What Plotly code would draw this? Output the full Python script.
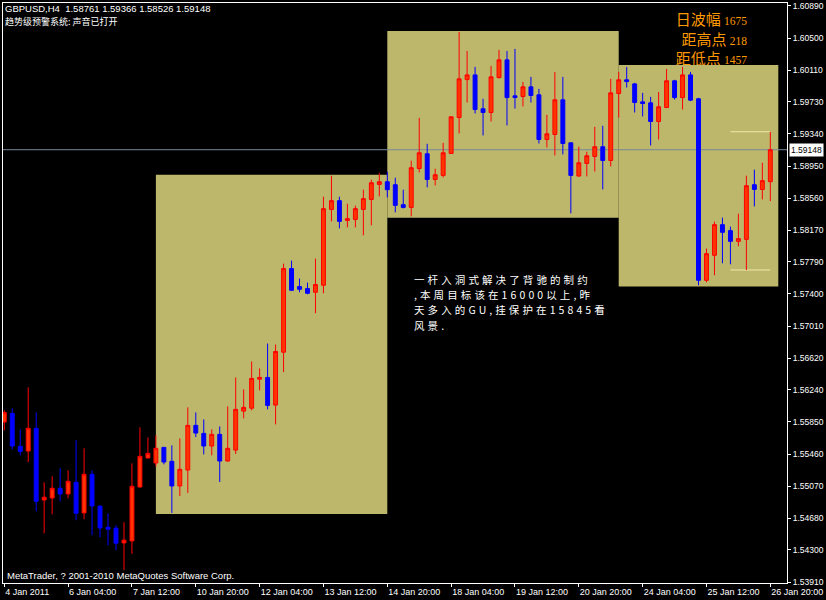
import plotly.graph_objects as go

# ---- text ---------------------------------------------------------------
symbol = "GBPUSD,H4"
status_line = "趋势级预警系统: 声音已打开"
copyright_line = "MetaTrader, ? 2001-2010 MetaQuotes Software Corp."
note_lines = [
    "一杆入洞式解决了背驰的制约",
    ",本周目标该在16000以上,昨",
    "天多入的GU,挂保护在15845看",
    "风景.",
]

# ---- H4 bars (bar index 0 = 4 Jan 20:00) ----------------------------------
opens = [
    1.55848, 1.55953, 1.55554, 1.55497, 1.55772, 1.54904, 1.54928, 1.55046, 1.54977, 1.55118,
    1.54747, 1.55215, 1.54828, 1.54574, 1.54562, 1.54384, 1.54408, 1.55061, 1.55412, 1.55352,
    1.55542, 1.55372, 1.55074, 1.55267, 1.55808, 1.55711, 1.55558, 1.55699, 1.55376, 1.55509,
    1.55981, 1.56017, 1.56368, 1.56389, 1.56054, 1.56695, 1.57708, 1.57490, 1.57466, 1.57421,
    1.57506, 1.58425, 1.58531, 1.58292, 1.58304, 1.58425, 1.58546, 1.58728, 1.58760, 1.58724,
    1.58482, 1.58449, 1.58921, 1.59099, 1.58788, 1.58837, 1.59103, 1.59538, 1.59998, 1.60055,
    1.59644, 1.59599, 1.60022, 1.60237, 1.59801, 1.59793, 1.59910, 1.59813, 1.59272, 1.59333,
    1.59753, 1.59232, 1.58829, 1.58982, 1.59067, 1.59184, 1.59018, 1.59829, 1.59995, 1.59946,
    1.59728, 1.59716, 1.59490, 1.59659, 1.59983, 1.59780, 1.60055, 1.59765, 1.57566, 1.57869,
    1.58240, 1.58168, 1.58038, 1.58062, 1.58724, 1.58667, 1.58761,
]
highs = [
    1.55990, 1.56014, 1.55760, 1.56268, 1.55965, 1.55118, 1.55191, 1.55288, 1.55264, 1.55627,
    1.55530, 1.55264, 1.54840, 1.54743, 1.54598, 1.54634, 1.55348, 1.55784, 1.55663, 1.55687,
    1.55542, 1.55566, 1.55651, 1.56026, 1.55965, 1.55881, 1.55760, 1.55796, 1.56038, 1.56389,
    1.56244, 1.56582, 1.56498, 1.56800, 1.56788, 1.57768, 1.57805, 1.57587, 1.57538, 1.57829,
    1.58579, 1.58833, 1.58579, 1.58494, 1.58470, 1.58664, 1.58785, 1.58869, 1.58881, 1.58809,
    1.58664, 1.59015, 1.59535, 1.59220, 1.58918, 1.59232, 1.59547, 1.60575, 1.60345, 1.60152,
    1.59765, 1.60164, 1.60358, 1.60345, 1.60370, 1.59970, 1.60031, 1.59886, 1.59571, 1.60091,
    1.60031, 1.59232, 1.59184, 1.59123, 1.59426, 1.59438, 1.60007, 1.60091, 1.60152, 1.59958,
    1.59837, 1.59789, 1.59849, 1.60128, 1.59995, 1.60152, 1.60091, 1.59777, 1.57950, 1.58276,
    1.58325, 1.58216, 1.58373, 1.58833, 1.58906, 1.58990, 1.59366,
]
lows = [
    1.55748, 1.55518, 1.55445, 1.55364, 1.54767, 1.54501, 1.54731, 1.54888, 1.54925, 1.54659,
    1.54671, 1.54477, 1.54453, 1.54356, 1.54296, 1.54054, 1.54251, 1.55058, 1.55409, 1.55312,
    1.55336, 1.54747, 1.54953, 1.54989, 1.55666, 1.55457, 1.55445, 1.55122, 1.55370, 1.55461,
    1.55893, 1.55990, 1.56232, 1.56002, 1.55820, 1.56453, 1.57440, 1.57421, 1.57397, 1.57167,
    1.57409, 1.58280, 1.58195, 1.58207, 1.58207, 1.58111, 1.58232, 1.58583, 1.58570, 1.58389,
    1.58437, 1.58341, 1.58873, 1.58691, 1.58716, 1.58812, 1.59103, 1.59345, 1.59720, 1.59587,
    1.59321, 1.59490, 1.60010, 1.59442, 1.59647, 1.59672, 1.59720, 1.59224, 1.59175, 1.59079,
    1.59091, 1.58377, 1.58825, 1.58825, 1.58885, 1.58667, 1.58946, 1.59538, 1.59901, 1.59599,
    1.59551, 1.59200, 1.59272, 1.59655, 1.59756, 1.59635, 1.59737, 1.57506, 1.57542, 1.57627,
    1.57772, 1.57760, 1.57978, 1.57691, 1.58462, 1.58546, 1.58526,
]
closes = [
    1.55965, 1.55558, 1.55493, 1.55772, 1.54888, 1.54937, 1.55046, 1.54977, 1.55130, 1.54743,
    1.55215, 1.54832, 1.54565, 1.54550, 1.54380, 1.54417, 1.55070, 1.55433, 1.55469, 1.55530,
    1.55364, 1.55074, 1.55276, 1.55808, 1.55715, 1.55558, 1.55699, 1.55376, 1.55530, 1.56002,
    1.56026, 1.56377, 1.56389, 1.56050, 1.56703, 1.57708, 1.57445, 1.57457, 1.57409, 1.57514,
    1.58434, 1.58531, 1.58280, 1.58313, 1.58434, 1.58555, 1.58748, 1.58760, 1.58664, 1.58474,
    1.58449, 1.58930, 1.59111, 1.58788, 1.58845, 1.59111, 1.59547, 1.60007, 1.60055, 1.59635,
    1.59599, 1.60031, 1.60237, 1.59780, 1.59780, 1.59910, 1.59805, 1.59272, 1.59341, 1.59753,
    1.59224, 1.58837, 1.58990, 1.59075, 1.59184, 1.59018, 1.59837, 1.59995, 1.59974, 1.59720,
    1.59708, 1.59490, 1.59668, 1.59983, 1.59780, 1.60055, 1.59749, 1.57566, 1.57889, 1.58240,
    1.58147, 1.58038, 1.58071, 1.58712, 1.58667, 1.58773, 1.59148,
]
bars = list(range(len(closes)))

# ---- axis labels --------------------------------------------------------
time_labels = [
    "4 Jan 2011", "6 Jan 04:00", "7 Jan 12:00", "10 Jan 20:00", "12 Jan 04:00",
    "13 Jan 12:00", "14 Jan 20:00", "18 Jan 04:00", "19 Jan 12:00", "20 Jan 20:00",
    "24 Jan 04:00", "25 Jan 12:00", "26 Jan 20:00",
]
time_label_bars = [0, 8, 16, 24, 32, 40, 48, 56, 64, 72, 80, 88, 96]
price_labels = [
    "1.60890", "1.60500", "1.60110", "1.59730", "1.59340", "1.58950", "1.58560",
    "1.58170", "1.57790", "1.57400", "1.57010", "1.56620", "1.56240", "1.55850",
    "1.55460", "1.55070", "1.54680", "1.54300", "1.53910",
]

# ---- objects on the chart ----------------------------------------------
zone_bars = [(19, 48), (48, 77), (77, 97)]
zone_prices = [(1.54733, 1.58846), (1.58325, 1.60588), (1.57491, 1.60176)]
day_start_bar = 91
day_high = 1.59366
day_low = 1.57691

last = closes[-1]
range_pts = round((day_high - day_low) * 100000)
to_high_pts = round((day_high - last) * 100000)
to_low_pts = round((last - day_low) * 100000)

# ---- page geometry (pixels -> paper fractions) -----------------------
W, H = 826, 600
L, T, R, B = 2, 2, 38, 17
PW, PH = W - L - R, H - T - B


def px(x):
    return (x - L) / PW


def py(y):
    return (H - B - y) / PH


ORANGE = "#FF9900"
WHITE = "#FFFFFF"
UI_FONT = "Liberation Sans"
CJK_FONT = "Noto Sans CJK SC"

fig = go.Figure()

# Range statistics sit on the lower subplot so the zones of the chart
# subplot are painted over them.
num_style = "font-family:Liberation Serif;font-size:11.5px"
stats_text = [
    f"日波幅 <span style='{num_style}'>{range_pts}</span>",
    f"距高点 <span style='{num_style}'>{to_high_pts}</span>",
    f"距低点 <span style='{num_style}'>{to_low_pts}</span>",
]
fig.add_trace(go.Scatter(
    x=[px(748)] * 3,
    y=[py(20), py(40), py(59)],
    mode="text",
    text=stats_text,
    textposition="middle left",
    textfont=dict(family=CJK_FONT, size=15, color=ORANGE),
    hoverinfo="skip",
    xaxis="x", yaxis="y",
))

fig.add_trace(go.Candlestick(
    x=bars, open=opens, high=highs, low=lows, close=closes,
    increasing=dict(line=dict(color="#FF0000", width=1), fillcolor="#FF3300"),
    decreasing=dict(line=dict(color="#0000FF", width=1), fillcolor="#0000FF"),
    whiskerwidth=0,
    hoverinfo="skip",
    xaxis="x2", yaxis="y2",
))

shapes = []
for (b0, b1), (p0, p1) in zip(zone_bars, zone_prices):
    shapes.append(dict(type="rect", xref="x2", yref="y2", x0=b0, x1=b1, y0=p0, y1=p1,
                       fillcolor="#BDB76B", line=dict(width=0), layer="below"))
shapes.append(dict(type="line", xref="x2", yref="y2", x0=-1, x1=100, y0=last, y1=last,
                   line=dict(color="#778899", width=1), layer="below"))
for lvl in (day_high, day_low):
    shapes.append(dict(type="line", xref="x2", yref="y2", x0=day_start_bar, x1=bars[-1],
                       y0=lvl, y1=lvl, line=dict(color="#EEE8AA", width=1), layer="below"))

annotations = [
    dict(xref="paper", yref="paper", x=px(2), y=py(8), xanchor="left", yanchor="middle",
         text=f"{symbol}\u00a0 {opens[-1]:.5f} {highs[-1]:.5f} {lows[-1]:.5f} {closes[-1]:.5f}",
         showarrow=False, font=dict(family=UI_FONT, size=9.5, color=WHITE)),
    dict(xref="paper", yref="paper", x=px(2), y=py(21), xanchor="left", yanchor="middle",
         text=status_line, showarrow=False,
         font=dict(family=CJK_FONT, size=9, color=WHITE)),
    dict(xref="paper", yref="paper", x=px(4), y=py(575), xanchor="left", yanchor="middle",
         text=copyright_line, showarrow=False,
         font=dict(family=UI_FONT, size=9.5, color=WHITE)),
    dict(xref="paper", yref="y2", x=px(790), y=last, xanchor="left", yanchor="middle",
         text=f"{last:.5f}", showarrow=False, bgcolor=WHITE, borderpad=1,
         font=dict(family=UI_FONT, size=8.5, color="#000000")),
]
# Comment block, one annotation per line so the rows stay evenly spaced.
for i, line in enumerate(note_lines):
    annotations.append(dict(
        xref="paper", yref="paper", x=px(413), y=py(278.5 + 15.5 * i),
        xanchor="left", yanchor="middle", borderpad=0, showarrow=False,
        text=f"<span style='letter-spacing:3.1px'>{line}</span>",
        font=dict(family=CJK_FONT, size=10.5, color=WHITE)))

fig.update_layout(
    width=W, height=H,
    margin=dict(l=L, r=R, t=T, b=B, pad=0),
    paper_bgcolor="#000000",
    plot_bgcolor="rgba(0,0,0,0)",
    showlegend=False,
    hovermode=False,
    shapes=shapes,
    annotations=annotations,
    xaxis=dict(domain=[0, 1], range=[0, 1], visible=False, fixedrange=True),
    yaxis=dict(domain=[0, 1], range=[0, 1], visible=False, fixedrange=True),
    xaxis2=dict(
        domain=[0, 1], anchor="y2", range=[-0.16, 98.09],
        tickmode="array", tickvals=time_label_bars, ticktext=time_labels,
        ticks="outside", ticklen=3, tickcolor=WHITE, ticklabelposition="outside right",
        tickfont=dict(family=UI_FONT, size=9, color=WHITE),
        showline=True, mirror=True, linecolor=WHITE, linewidth=1,
        showgrid=False, zeroline=False, rangeslider=dict(visible=False),
    ),
    yaxis2=dict(
        domain=[0, 1], anchor="x2", side="right", range=[1.53898, 1.60926],
        tickmode="array", tickvals=[float(s) for s in price_labels], ticktext=price_labels,
        ticks="outside", ticklen=3, tickcolor=WHITE,
        tickfont=dict(family=UI_FONT, size=8.5, color=WHITE),
        showline=True, mirror=True, linecolor=WHITE, linewidth=1,
        showgrid=False, zeroline=False,
    ),
)

fig.write_html("out.html")
